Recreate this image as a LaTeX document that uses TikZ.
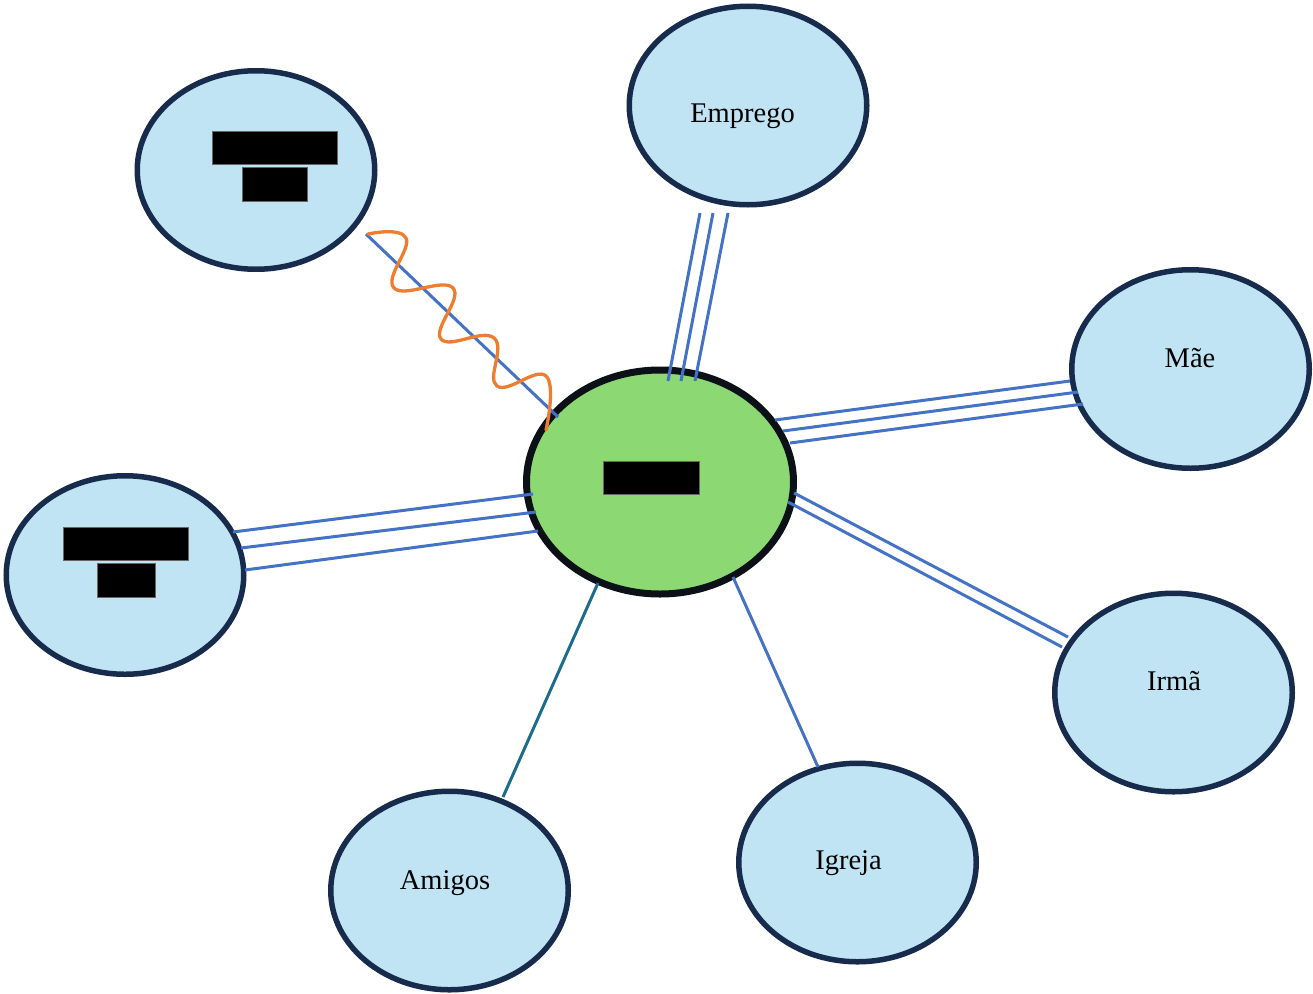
\documentclass[tikz,border=0pt]{standalone}
\usepackage{fontspec}
\setmainfont{Liberation Serif}
\usetikzlibrary{shapes.geometric}
\definecolor{satfill}{HTML}{C0E4F3}
\definecolor{satedge}{HTML}{172B4D}
\definecolor{egofill}{HTML}{8CD872}
\definecolor{egoedge}{HTML}{0B1116}
\definecolor{tiecol}{HTML}{4472C4}
\definecolor{tealcol}{HTML}{1F6B8C}
\definecolor{wavecol}{HTML}{ED7D31}
\tikzset{
  satellite/.style={ellipse, draw=satedge, line width=5.5pt, fill=satfill,
    minimum width=237.5pt, minimum height=198.5pt, inner sep=0pt},
  ego/.style={ellipse, draw=egoedge, line width=7pt, fill=egofill,
    minimum width=267pt, minimum height=224pt, inner sep=0pt},
  lbl/.style={anchor=base, inner sep=0pt, font=\fontsize{28.5}{34}\selectfont},
  tie/.style={draw=tiecol, line width=3pt},
  tealtie/.style={draw=tealcol, line width=3pt},
  wavy/.style={draw=wavecol, line width=3.3pt, line cap=round, line join=round},
  redact/.style={fill=black, draw=black!60, line width=0.5pt}
}
\begin{document}
\begin{tikzpicture}[x=1pt, y=-1pt]
\useasboundingbox (0,0) rectangle (1313,993);

% nodes
\node[ego] (ego) at (660,482) {};
\node[satellite] (tl) at (256,170) {};
\node[satellite] (emp) at (748,105.5) {};
\node[satellite] (mae) at (1190.5,369) {};
\node[satellite] (lf) at (125,575) {};
\node[satellite] (irm) at (1173.5,692.5) {};
\node[satellite] (igr) at (857.5,862.5) {};
\node[satellite] (ami) at (449.5,890.5) {};

% labels
\node[lbl] (tEmp) at (742.5,122) {Emprego};
\node[lbl] (tMae) at (1190,367) {Mãe};
\node[lbl] (tIrm) at (1174,690) {Irmã};
\node[lbl] (tIgr) at (848.5,869) {Igreja};
\node[lbl] (tAmi) at (445,889) {Amigos};

% redaction boxes
\fill[redact] (603,461) rectangle (699,494);
\fill[redact] (212,131) rectangle (337,164);
\fill[redact] (242,167) rectangle (307,201);
\fill[redact] (63,527) rectangle (188,560);
\fill[redact] (97,563) rectangle (155,597);

% connector end points
\coordinate (e1a) at (700,213); \coordinate (e1b) at (668,381);
\coordinate (e2a) at (713,213); \coordinate (e2b) at (681,381);
\coordinate (e3a) at (728,213); \coordinate (e3b) at (695,381);

\coordinate (m1a) at (775,420); \coordinate (m1b) at (1070,381);
\coordinate (m2a) at (783,431); \coordinate (m2b) at (1078,392);
\coordinate (m3a) at (790,443); \coordinate (m3b) at (1083,404);

\coordinate (i1a) at (794,493); \coordinate (i1b) at (1068,637);
\coordinate (i2a) at (788,502); \coordinate (i2b) at (1062,647);

\coordinate (l1a) at (233,532); \coordinate (l1b) at (533,494);
\coordinate (l2a) at (241,548); \coordinate (l2b) at (536,512);
\coordinate (l3a) at (245,570); \coordinate (l3b) at (538,531);

\coordinate (ga) at (733,577); \coordinate (gb) at (818,767);
\coordinate (aa) at (598,583); \coordinate (ab) at (503,797);
\coordinate (ta) at (366,234); \coordinate (tb) at (558,417);

% connectors
\draw[tie] (e1a) -- (e1b);
\draw[tie] (e2a) -- (e2b);
\draw[tie] (e3a) -- (e3b);
\draw[tie] (m1a) -- (m1b);
\draw[tie] (m2a) -- (m2b);
\draw[tie] (m3a) -- (m3b);
\draw[tie] (i1a) -- (i1b);
\draw[tie] (i2a) -- (i2b);
\draw[tie] (l1a) -- (l1b);
\draw[tie] (l2a) -- (l2b);
\draw[tie] (l3a) -- (l3b);
\draw[tie] (ga) -- (gb);
\draw[tealtie] (aa) -- (ab);
\draw[tie] (ta) -- (tb);

% conflict wave
\draw[wavy] plot[smooth, tension=0.75] coordinates {(368,234) (406,238) (394,288) (453,288) (441,339) (494,338) (497,386) (546,376) (546,430)};
\end{tikzpicture}
\end{document}
